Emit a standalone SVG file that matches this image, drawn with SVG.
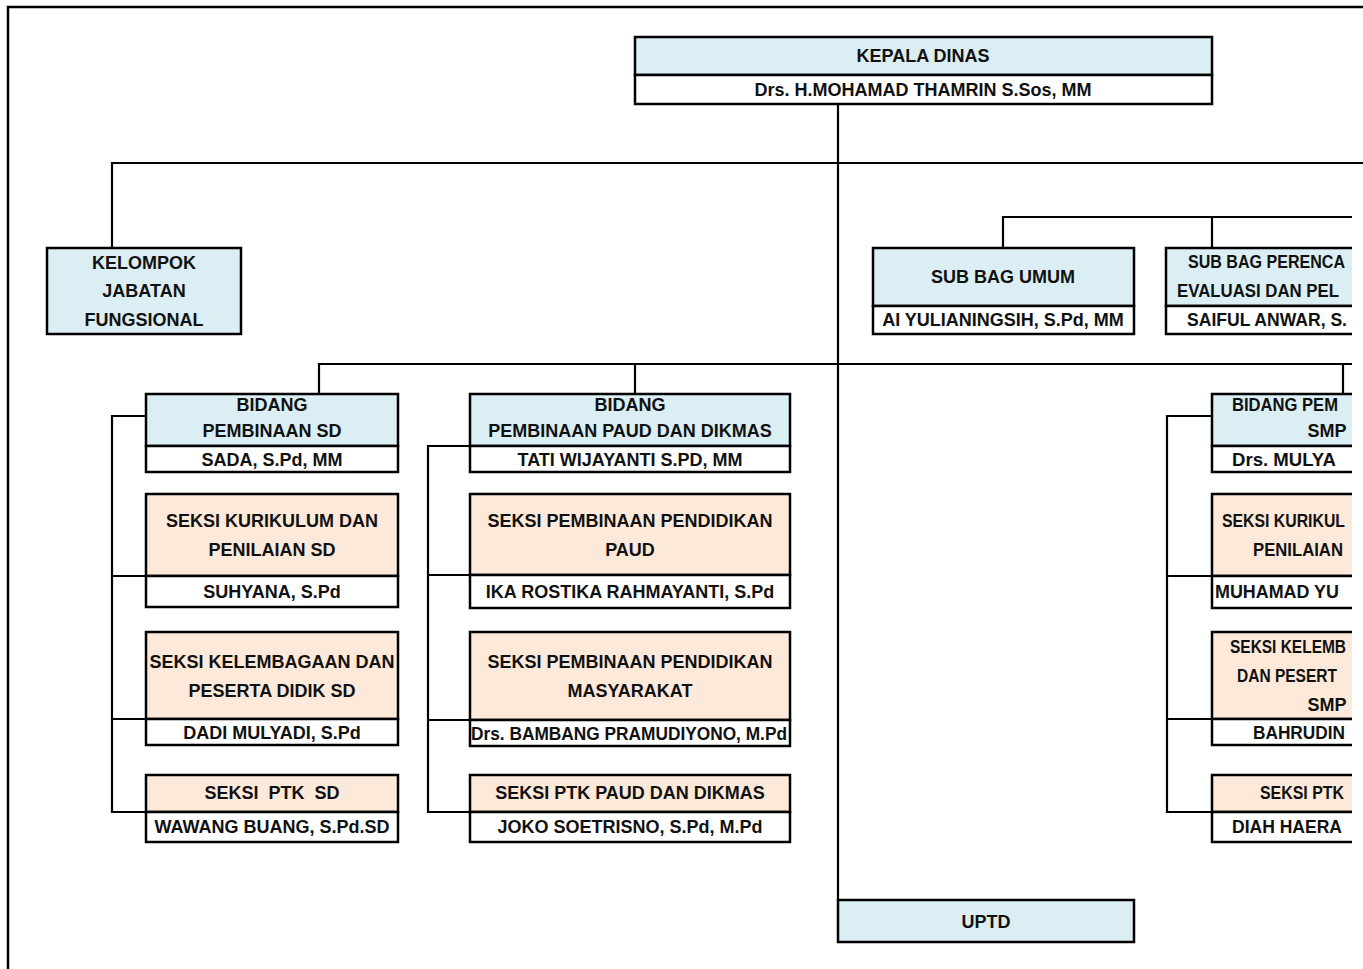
<svg xmlns="http://www.w3.org/2000/svg" width="1363" height="969" viewBox="0 0 1363 969">
<style>
rect{stroke:#000;stroke-width:2.5}
.hd{fill:#DAEEF3}
.sk{fill:#FDE9D9}
.nm{fill:#FFFFFF}
.c{stroke:#000;stroke-width:2.2;fill:none}
text{font-family:"Liberation Sans",Arial,sans-serif;font-weight:bold;font-size:18px;fill:#111;text-anchor:middle}
.s{text-anchor:start}
</style>
<defs>
<clipPath id="edge"><rect x="0" y="0" width="1352" height="969" style="stroke:none"/></clipPath>
</defs>
<rect x="0" y="0" width="1363" height="969" style="fill:#fff;stroke:none"/>
<path d="M8,969 V7 H1363" class="c" style="stroke-width:2.5"/>
<g id="connectors">
<path class="c" d="M838,104 V900"/>
<path class="c" d="M112,248 V163 H1363"/>
<g clip-path="url(#edge)">
<path class="c" d="M1003,248 V217 H1363 M1212,217 V248"/>
<path class="c" d="M319,394 V364 H1363 M635,364 V394 M1343,364 V394"/>
<path class="c" d="M146,416 H112 V812 H146 M112,576 H146 M112,719 H146"/>
<path class="c" d="M470,446 H428 V812 H470 M428,575 H470 M428,720 H470"/>
<path class="c" d="M1212,416 H1167 V812 H1212 M1167,576 H1212 M1167,719 H1212"/>
</g>
</g>
<g id="kepala-dinas">
<rect class="hd" x="635" y="37" width="577" height="38"/>
<rect class="nm" x="635" y="75" width="577" height="29"/>
<text x="923" y="62">KEPALA DINAS</text>
<text x="923" y="96">Drs. H.MOHAMAD THAMRIN S.Sos, MM</text>
</g>
<g id="kelompok-jabatan-fungsional">
<rect class="hd" x="47" y="248" width="194" height="86"/>
<text x="144" y="269">KELOMPOK</text>
<text x="144" y="297">JABATAN</text>
<text x="144" y="326">FUNGSIONAL</text>
</g>
<g id="sub-bag-umum">
<rect class="hd" x="873" y="248" width="261" height="58"/>
<rect class="nm" x="873" y="306" width="261" height="28"/>
<text x="1003" y="283">SUB BAG UMUM</text>
<text x="1003" y="326">AI YULIANINGSIH, S.Pd, MM</text>
</g>
<g id="sub-bag-perencanaan" clip-path="url(#edge)">
<rect class="hd" x="1166" y="248" width="262" height="58"/>
<rect class="nm" x="1166" y="306" width="262" height="28"/>
</g>
<g id="sub-bag-perencanaan-text">
<text class="s" x="1188" y="268" textLength="157" lengthAdjust="spacingAndGlyphs">SUB BAG PERENCA</text>
<text class="s" x="1177" y="297" textLength="162" lengthAdjust="spacingAndGlyphs">EVALUASI DAN PEL</text>
<text class="s" x="1187" y="326" textLength="160" lengthAdjust="spacingAndGlyphs">SAIFUL ANWAR, S.</text>
</g>
<g id="bidang-sd">
<rect class="hd" x="146" y="394" width="252" height="52"/>
<rect class="nm" x="146" y="446" width="252" height="26"/>
<text x="272" y="411">BIDANG</text>
<text x="272" y="437">PEMBINAAN SD</text>
<text x="272" y="466">SADA, S.Pd, MM</text>
</g>
<g id="seksi-kurikulum-sd">
<rect class="sk" x="146" y="494" width="252" height="82"/>
<rect class="nm" x="146" y="576" width="252" height="31"/>
<text x="272" y="527">SEKSI KURIKULUM DAN</text>
<text x="272" y="556">PENILAIAN SD</text>
<text x="272" y="598">SUHYANA, S.Pd</text>
</g>
<g id="seksi-kelembagaan-sd">
<rect class="sk" x="146" y="632" width="252" height="87"/>
<rect class="nm" x="146" y="719" width="252" height="26"/>
<text x="272" y="668">SEKSI KELEMBAGAAN DAN</text>
<text x="272" y="697">PESERTA DIDIK SD</text>
<text x="272" y="739">DADI MULYADI, S.Pd</text>
</g>
<g id="seksi-ptk-sd">
<rect class="sk" x="146" y="775" width="252" height="37"/>
<rect class="nm" x="146" y="812" width="252" height="30"/>
<text x="272" y="799" xml:space="preserve">SEKSI  PTK  SD</text>
<text x="272" y="833">WAWANG BUANG, S.Pd.SD</text>
</g>
<g id="bidang-paud">
<rect class="hd" x="470" y="394" width="320" height="52"/>
<rect class="nm" x="470" y="446" width="320" height="26"/>
<text x="630" y="411">BIDANG</text>
<text x="630" y="437">PEMBINAAN PAUD DAN DIKMAS</text>
<text x="630" y="466">TATI WIJAYANTI S.PD, MM</text>
</g>
<g id="seksi-paud">
<rect class="sk" x="470" y="494" width="320" height="81"/>
<rect class="nm" x="470" y="575" width="320" height="33"/>
<text x="630" y="527">SEKSI PEMBINAAN PENDIDIKAN</text>
<text x="630" y="556">PAUD</text>
<text x="630" y="598">IKA ROSTIKA RAHMAYANTI, S.Pd</text>
</g>
<g id="seksi-masyarakat">
<rect class="sk" x="470" y="632" width="320" height="88"/>
<rect class="nm" x="470" y="720" width="320" height="26"/>
<text x="630" y="668">SEKSI PEMBINAAN PENDIDIKAN</text>
<text x="630" y="697">MASYARAKAT</text>
<text class="s" x="471" y="740" textLength="316" lengthAdjust="spacingAndGlyphs">Drs. BAMBANG PRAMUDIYONO, M.Pd</text>
</g>
<g id="seksi-ptk-paud">
<rect class="sk" x="470" y="775" width="320" height="37"/>
<rect class="nm" x="470" y="812" width="320" height="30"/>
<text x="630" y="799">SEKSI PTK PAUD DAN DIKMAS</text>
<text x="630" y="833">JOKO SOETRISNO, S.Pd, M.Pd</text>
</g>
<g id="bidang-smp">
<g clip-path="url(#edge)">
<rect class="hd" x="1212" y="394" width="228" height="52"/>
<rect class="nm" x="1212" y="446" width="228" height="26"/>
</g>
<text class="s" x="1232" y="411" textLength="106" lengthAdjust="spacingAndGlyphs">BIDANG PEM</text>
<text x="1327" y="437">SMP</text>
<text class="s" x="1232" y="466" textLength="104" lengthAdjust="spacingAndGlyphs">Drs. MULYA</text>
</g>
<g id="seksi-kurikulum-smp">
<g clip-path="url(#edge)">
<rect class="sk" x="1212" y="494" width="228" height="82"/>
<rect class="nm" x="1212" y="576" width="228" height="32"/>
</g>
<text class="s" x="1222" y="527" textLength="123" lengthAdjust="spacingAndGlyphs">SEKSI KURIKUL</text>
<text class="s" x="1253" y="556" textLength="90" lengthAdjust="spacingAndGlyphs">PENILAIAN</text>
<text class="s" x="1215" y="598" textLength="124" lengthAdjust="spacingAndGlyphs">MUHAMAD YU</text>
</g>
<g id="seksi-kelembagaan-smp">
<g clip-path="url(#edge)">
<rect class="sk" x="1212" y="632" width="228" height="87"/>
<rect class="nm" x="1212" y="719" width="228" height="26"/>
</g>
<text class="s" x="1230" y="653" textLength="116" lengthAdjust="spacingAndGlyphs">SEKSI KELEMB</text>
<text class="s" x="1237" y="682" textLength="100" lengthAdjust="spacingAndGlyphs">DAN PESERT</text>
<text x="1327" y="711">SMP</text>
<text class="s" x="1253" y="739" textLength="92" lengthAdjust="spacingAndGlyphs">BAHRUDIN</text>
</g>
<g id="seksi-ptk-smp">
<g clip-path="url(#edge)">
<rect class="sk" x="1212" y="775" width="228" height="37"/>
<rect class="nm" x="1212" y="812" width="228" height="30"/>
</g>
<text class="s" x="1260" y="799" textLength="84" lengthAdjust="spacingAndGlyphs">SEKSI PTK</text>
<text class="s" x="1232" y="833" textLength="110" lengthAdjust="spacingAndGlyphs">DIAH HAERA</text>
</g>
<g id="uptd">
<rect class="hd" x="838" y="900" width="296" height="42"/>
<text x="986" y="928">UPTD</text>
</g>
</svg>
